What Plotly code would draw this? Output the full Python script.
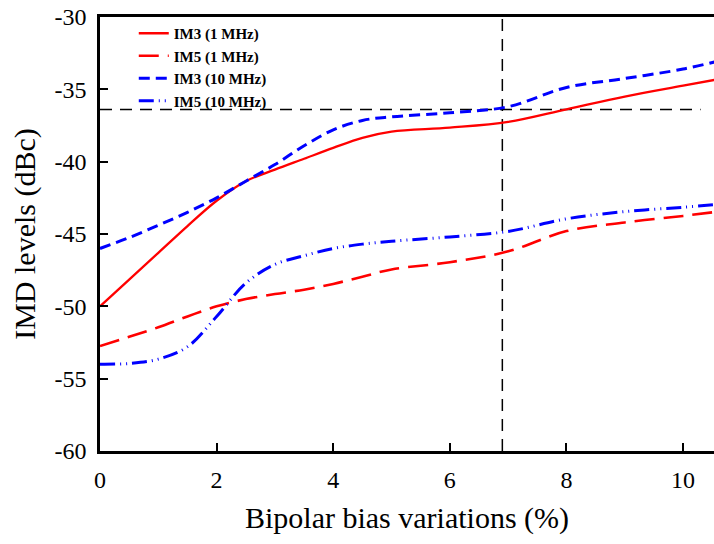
import plotly.graph_objects as go

x_vals = [0, 0.5, 1, 1.5, 2, 2.5, 3, 3.5, 4, 4.5, 5, 6, 7, 8, 9, 10, 10.6]
im3_1mhz = [-50.0, -48.15, -46.3, -44.45, -42.7, -41.35, -40.55, -39.8, -39.05, -38.35, -37.92,
            -37.65, -37.25, -36.38, -35.5, -34.75, -34.3]
im5_1mhz = [-52.75, -52.1, -51.45, -50.7, -50.0, -49.5, -49.15, -48.85, -48.45, -47.95, -47.45,
            -46.95, -46.2, -44.8, -44.2, -43.75, -43.45]
im3_10mhz = [-46.0, -45.25, -44.4, -43.5, -42.5, -41.35, -40.2, -38.9, -37.8, -37.15, -36.9,
             -36.62, -36.2, -34.87, -34.25, -33.6, -33.05]
im5_10mhz = [-54.0, -53.95, -53.65, -52.8, -50.7, -48.4, -47.1, -46.5, -46.0, -45.7, -45.5,
             -45.2, -44.82, -43.95, -43.45, -43.15, -42.95]

ref_x = 6.9
ref_y = -36.4
ref_hline_x = [0, 10.3]
y_range = [-60, -30]
x_range = [0, 10.53]
x_ticks = [0, 2, 4, 6, 8, 10]
x_tick_labels = ["0", "2", "4", "6", "8", "10"]
y_ticks = [-60, -55, -50, -45, -40, -35, -30]
y_tick_labels = ["-60", "-55", "-50", "-45", "-40", "-35", "-30"]

fig = go.Figure()

# reference lines
fig.add_trace(go.Scatter(x=ref_hline_x, y=[ref_y, ref_y], mode="lines", showlegend=False,
                         line=dict(color="black", width=1.5, dash="12px,8px"), hoverinfo="skip"))
fig.add_trace(go.Scatter(x=[ref_x, ref_x], y=y_range, mode="lines", showlegend=False,
                         line=dict(color="black", width=1.5, dash="12px,8px"), hoverinfo="skip"))

fig.add_trace(go.Scatter(x=x_vals, y=im3_1mhz, mode="lines", name="IM3 (1 MHz)",
                         line=dict(color="#ff0000", width=2.3, shape="spline")))
fig.add_trace(go.Scatter(x=x_vals, y=im5_1mhz, mode="lines", name="IM5 (1 MHz)",
                         line=dict(color="#ff0000", width=2.6, shape="spline", dash="20px,9px")))
fig.add_trace(go.Scatter(x=x_vals, y=im3_10mhz, mode="lines", name="IM3 (10 MHz)",
                         line=dict(color="#0000ff", width=3, shape="spline", dash="11px,6px")))
fig.add_trace(go.Scatter(x=x_vals, y=im5_10mhz, mode="lines", name="IM5 (10 MHz)",
                         line=dict(color="#0000ff", width=3, shape="spline",
                                   dash="15px,5px,1px,5px,1px,5px")))

font_family = "Liberation Serif"

fig.update_layout(
    width=714, height=544,
    margin=dict(l=100, r=0, t=17, b=93, autoexpand=False),
    plot_bgcolor="white", paper_bgcolor="white",
    font=dict(family=font_family, color="black"),
    showlegend=True,
    hovermode=False,
    legend=dict(x=0.055, y=1.0, xanchor="left", yanchor="top",
                bgcolor="rgba(0,0,0,0)", borderwidth=0,
                font=dict(family=font_family, size=15, color="black", weight="bold"),
                tracegroupgap=0),
)

fig.update_xaxes(range=x_range, tickvals=x_ticks, ticktext=x_tick_labels,
                 showgrid=False, zeroline=False,
                 showline=True, linecolor="black", linewidth=2.5, mirror=True,
                 ticks="inside", ticklen=8, tickwidth=2, tickcolor="black",
                 ticklabelstandoff=5, ticklabeloverflow="allow",
                 tickfont=dict(size=24, family=font_family),
                 title=dict(text="Bipolar bias variations (%)", font=dict(size=30, family=font_family),
                            standoff=16))
fig.update_yaxes(range=y_range, tickvals=y_ticks, ticktext=y_tick_labels,
                 showgrid=False, zeroline=False,
                 showline=True, linecolor="black", linewidth=2.5, mirror=False,
                 ticks="inside", ticklen=8, tickwidth=2, tickcolor="black",
                 ticklabelstandoff=6, ticklabeloverflow="allow",
                 tickfont=dict(size=24, family=font_family),
                 title=dict(text="IMD levels (dBc)", font=dict(size=30, family=font_family),
                            standoff=10))

fig.write_html("out.html", config={"displayModeBar": False},
               post_script="document.body.style.margin='0';")
